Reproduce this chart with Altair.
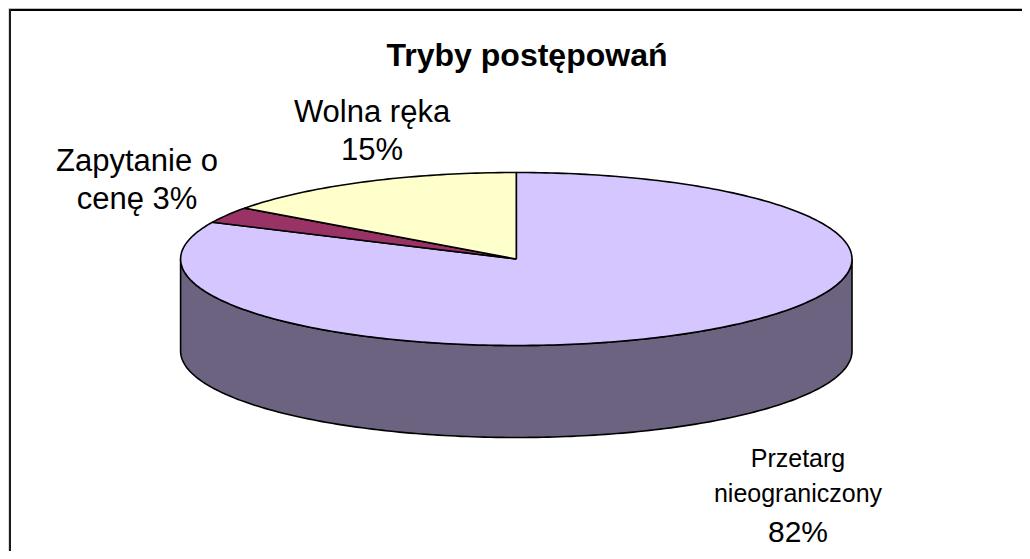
import altair as alt
import numpy as np
import pandas as pd

# ---- data -------------------------------------------------------------
categories = ["Przetarg nieograniczony", "Zapytanie o cenę", "Wolna ręka"]
values = [82, 3, 15]
chart_title = "Tryby postępowań"

# ---- styles -----------------------------------------------------------
top_colors = ["#D5C6FF", "#993366", "#FFFFCC"]
side_colors = ["#6B6380", "#4D1A33", "#80806A"]
FONT = "Liberation Sans"

# ---- layout (plot-area coordinates, 1 unit = 1 px on the page) ---------
W, H = 1014, 543
X_DOMAIN = [8, 8 + W]
Y_DOMAIN = [8, 8 + H]
CX, CY, RX, RY, DEPTH = 516.3, 259.0, 335.7, 86.5, 92.0


def ell(theta_deg, dy=0.0):
    t = np.radians(theta_deg)
    return CX + RX * np.sin(t), CY - RY * np.cos(t) + dy


total = float(sum(values))
cum = np.cumsum([0] + values)
starts = cum[:-1] / total * 360.0
ends = cum[1:] / total * 360.0

top_rows, side_rows = [], []
for k, (cat, s, e) in enumerate(zip(categories, starts, ends)):
    n = max(int(e - s) + 2, 3)
    th = np.linspace(s, e, n)
    pts = [(CX, CY)] + [ell(t) for t in th] + [(CX, CY)]
    for i, (x, y) in enumerate(pts):
        top_rows.append({"poly": cat, "i": i, "x": x, "y": y, "col": top_colors[k]})
    lo, hi = max(s, 90.0), min(e, 270.0)
    if hi > lo:
        th = np.linspace(lo, hi, max(int(hi - lo) + 2, 3))
        pts = [ell(t) for t in th] + [ell(t, DEPTH) for t in th[::-1]]
        pts.append(pts[0])
        for i, (x, y) in enumerate(pts):
            side_rows.append({"poly": cat, "i": i, "x": x, "y": y, "col": side_colors[k]})

top_df = pd.DataFrame(top_rows)
side_df = pd.DataFrame(side_rows)

xs = alt.Scale(domain=X_DOMAIN, zero=False, nice=False)
ys = alt.Scale(domain=Y_DOMAIN, zero=False, nice=False, reverse=True)


def poly_layer(df):
    return alt.Chart(df).mark_line(
        filled=True, stroke="black", strokeWidth=1.6, strokeJoin="round"
    ).encode(
        x=alt.X("x:Q", scale=xs, axis=None),
        y=alt.Y("y:Q", scale=ys, axis=None),
        detail="poly:N",
        order=alt.Order("i:Q"),
        color=alt.Color("col:N", scale=None, legend=None),
    )


sides = poly_layer(side_df)
tops = poly_layer(top_df)

# ---- labels -----------------------------------------------------------
v = dict(zip(categories, values))
label_rows = [
    {"t": "Zapytanie o", "x": 137, "y": 171, "fs": 31},
    {"t": f"cenę {v['Zapytanie o cenę']}%", "x": 137, "y": 209, "fs": 31},
    {"t": "Wolna ręka", "x": 372, "y": 122, "fs": 31},
    {"t": f"{v['Wolna ręka']}%", "x": 372, "y": 160, "fs": 31},
    {"t": "Przetarg", "x": 798, "y": 467, "fs": 25},
    {"t": "nieograniczony", "x": 798, "y": 502, "fs": 25},
    {"t": f"{v['Przetarg nieograniczony']}%", "x": 798, "y": 542, "fs": 30},
]
labels = alt.Chart(pd.DataFrame(label_rows)).mark_text(
    font=FONT, align="center", baseline="alphabetic", color="black"
).encode(
    x=alt.X("x:Q", scale=xs, axis=None),
    y=alt.Y("y:Q", scale=ys, axis=None),
    text="t:N",
    size=alt.Size("fs:Q", scale=None, legend=None),
)

title = alt.Chart(pd.DataFrame({"t": [chart_title], "x": [527], "y": [66]})).mark_text(
    font=FONT, fontSize=32, fontWeight="bold", align="center", baseline="alphabetic", color="black"
).encode(
    x=alt.X("x:Q", scale=xs, axis=None),
    y=alt.Y("y:Q", scale=ys, axis=None),
    text="t:N",
)

# ---- frame ------------------------------------------------------------
frame_top_gray = alt.Chart().mark_rule(color="#BDBDBD", strokeWidth=1).encode(
    x=alt.value(1), x2=alt.value(W), y=alt.value(0.5)
)
frame_top = alt.Chart().mark_rule(color="black", strokeWidth=2).encode(
    x=alt.value(1), x2=alt.value(W), y=alt.value(2)
)
frame_left = alt.Chart().mark_rule(color="#1a1a1a", strokeWidth=2).encode(
    x=alt.value(2), y=alt.value(1), y2=alt.value(H)
)

chart = alt.layer(
    sides, tops, labels, title, frame_top_gray, frame_top, frame_left
).properties(
    width=W, height=H, padding=0, autosize=alt.AutoSizeParams(type="none")
).configure_view(stroke=None).configure(background="white")

chart.save("out.html", embed_options={"renderer": "svg", "actions": False})
